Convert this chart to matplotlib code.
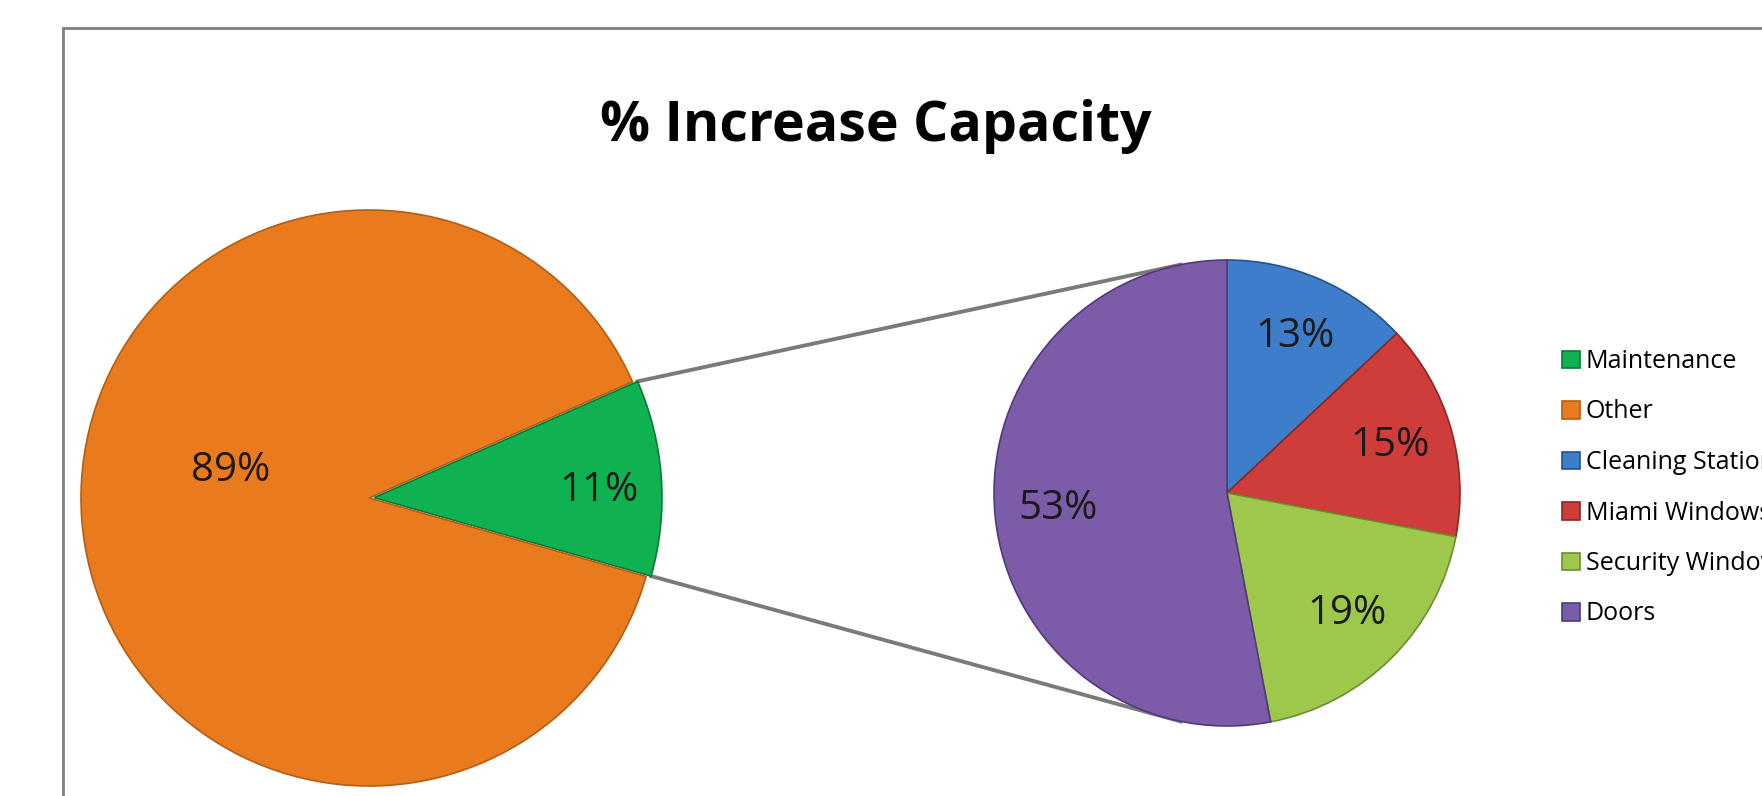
import matplotlib
matplotlib.use('Agg')
import matplotlib.pyplot as plt
from matplotlib.patches import Rectangle
import numpy as np

# Chart data
main_labels = ['Maintenance', 'Other']
main_values = [11, 89]
detail_labels = ['Cleaning Stations', 'Miami Windows', 'Security Windows', 'Doors']
detail_values = [13, 15, 19, 53]

main_colors = ['#10B150', '#E97B1E']
main_edges = ['#0A7A37', '#B45E14']
detail_colors = ['#3D7DCA', '#CE3D3A', '#9DC84B', '#7C5BA8']
detail_edges = ['#24538C', '#8E2624', '#6D8E2E', '#52397A']

plt.rcParams['font.family'] = ['Open Sans', 'DejaVu Sans']

W, H = 1762, 796
fig = plt.figure(figsize=(W / 100, H / 100), dpi=100)
ax = fig.add_axes([0, 0, 1, 1])

# Left pie (pixel units, y measured upwards)
main_center = (369, H - 498)
main_r = 288
wedges1, _, autotexts1 = ax.pie(main_values, colors=main_colors, radius=main_r,
                                center=main_center, startangle=-15.8,
                                explode=[5, 0], autopct='%1.0f%%',
                                textprops=dict(fontsize=29, color='#1A1A1A'),
                                wedgeprops=dict(linewidth=1.2))
for w, c in zip(wedges1, main_edges):
    w.set_edgecolor(c)

# label positions (angle in degrees, fraction of radius)
main_label_pos = [(1.7, 0.80), (169, 0.49)]
for t, (ang, frac) in zip(autotexts1, main_label_pos):
    a = np.deg2rad(ang)
    t.set_position((main_center[0] + frac * main_r * np.cos(a),
                    main_center[1] + frac * main_r * np.sin(a)))

# Right pie: breakdown of Maintenance
detail_center = (1227, H - 493)
detail_r = 233
wedges2, _, autotexts2 = ax.pie(detail_values, colors=detail_colors, radius=detail_r,
                                center=detail_center, startangle=90, counterclock=False,
                                autopct='%1.0f%%', pctdistance=0.73,
                                textprops=dict(fontsize=29, color='#1A1A1A'),
                                wedgeprops=dict(linewidth=1.2))
for w, c in zip(wedges2, detail_edges):
    w.set_edgecolor(c)

# Connector lines from the Maintenance slice to the second pie
g = wedges1[0]
gx, gy = g.center
for th_src, th_dst in [(g.theta2, 101.5), (g.theta1, 258.5)]:
    x0 = gx + g.r * np.cos(np.deg2rad(th_src))
    y0 = gy + g.r * np.sin(np.deg2rad(th_src))
    x1 = detail_center[0] + detail_r * np.cos(np.deg2rad(th_dst))
    y1 = detail_center[1] + detail_r * np.sin(np.deg2rad(th_dst))
    ax.plot([x0, x1], [y0, y1], color='#7A7A7A', linewidth=2.8, zorder=0.5)

ax.set_xlim(0, W)
ax.set_ylim(0, H)
ax.set_aspect('equal')
ax.axis('off')

# Legend
fig.legend(wedges1 + wedges2, main_labels + detail_labels,
           loc='upper left', bbox_to_anchor=(1562 / W, 1 - 349 / H),
           frameon=False, fontsize=18, handlelength=0.7, handleheight=0.7,
           handletextpad=0.25, labelspacing=1.02, borderpad=0, borderaxespad=0)

# Title
fig.text(876 / W, 1 - 126 / H, '% Increase Capacity', ha='center', va='center',
         fontsize=40, fontweight='bold', color='#000000')

# Chart area border (cut off at the right and bottom)
fig.add_artist(Rectangle((63 / W, -0.1), 1.2, 1 - 28 / H + 0.1,
                         transform=fig.transFigure, fill=False,
                         edgecolor='#7F7F7F', linewidth=2))

fig.savefig('out.png', dpi=100)
